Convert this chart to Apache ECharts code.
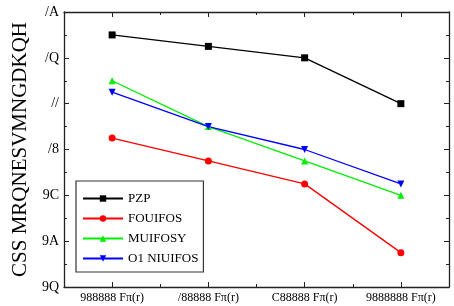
<!DOCTYPE html>
<html><head><meta charset="utf-8">
<script src="https://cdn.jsdelivr.net/npm/echarts@6/dist/echarts.min.js"></script>
<style>html,body{margin:0;padding:0;background:#fff}#c{width:454px;height:306px}</style>
</head><body><div id="c"></div>
<script>
const categories = ["988888 Fπ(r)", "/88888 Fπ(r)", "C88888 Fπ(r)", "9888888 Fπ(r)"];
const yTickLabels = ["9Q", "9A", "9C", "/8", "//", "/Q", "/A"];
const seriesNames = ["PZP", "FOUIFOS", "MUIFOSY", "O1 NIUIFOS"];
const blackVals = [5.5, 5.25, 5.0, 4.0];
const redVals = [3.25, 2.75, 2.25, 0.75];
const greenVals = [4.5, 3.5, 2.75, 2.0];
const blueVals = [4.25, 3.5, 3.0, 2.25];
const yTitle = "CSS MRQNESVMNGDKQH";

const font = "Liberation Serif";
const lineCol = "#222";
const chart = echarts.init(document.getElementById('c'));
function xAx(pos, major, labels) {
  return {
    type: 'category', data: categories, position: pos, boundaryGap: true,
    axisLine: {show: major, lineStyle: {color: lineCol, width: 1.3}},
    axisTick: {show: true, inside: true, alignWithLabel: major, interval: 0, length: major ? 5 : 3, lineStyle: {color: lineCol}},
    axisLabel: {show: labels, interval: 0, color: '#000', fontFamily: font, fontSize: 12, margin: 5},
    splitLine: {show: false}
  };
}
function yAx(pos, labels) {
  return {
    type: 'value', min: 0, max: 6, interval: 1, position: pos,
    axisLine: {show: true, lineStyle: {color: lineCol, width: 1.3}},
    axisTick: {show: true, inside: true, length: 5, lineStyle: {color: lineCol}},
    minorTick: {show: true, splitNumber: 2, length: 3, lineStyle: {color: lineCol}},
    axisLabel: {show: labels, color: '#000', fontFamily: font, fontSize: 14, margin: 5,
      formatter: v => yTickLabels[Math.round(v)]},
    splitLine: {show: false},
    name: labels ? yTitle : '', nameLocation: 'middle', nameRotate: 90, nameGap: 33,
    nameTextStyle: {fontFamily: font, fontSize: 21, color: '#000'}
  };
}
const mk = (name, data, color, symbol, rot) => ({
  name, type: 'line', data, xAxisIndex: 0, yAxisIndex: 0,
  symbol, symbolSize: 7, symbolRotate: rot || 0, showSymbol: true,
  itemStyle: {color}, lineStyle: {color, width: 1.3}, animation: false
});
chart.setOption({
  animation: false,
  grid: {left: 64, right: 5, top: 12, bottom: 19},
  xAxis: [xAx('bottom', true, true), xAx('bottom', false, false), xAx('top', true, false), xAx('top', false, false)],
  yAxis: [yAx('left', true), yAx('right', false)],
  legend: {
    orient: 'vertical', left: 76, top: 181, padding: [11, 5, 7, 6],
    borderColor: '#333', borderWidth: 1.2, itemWidth: 40, itemHeight: 8, itemGap: 7,
    textStyle: {fontFamily: font, fontSize: 13, color: '#000'},
    data: seriesNames
  },
  series: [
    mk(seriesNames[0], blackVals, '#000000', 'rect'),
    mk(seriesNames[1], redVals, '#ff0000', 'circle'),
    mk(seriesNames[2], greenVals, '#00ee00', 'triangle'),
    mk(seriesNames[3], blueVals, '#0000ff', 'triangle', 180)
  ]
});
</script></body></html>
